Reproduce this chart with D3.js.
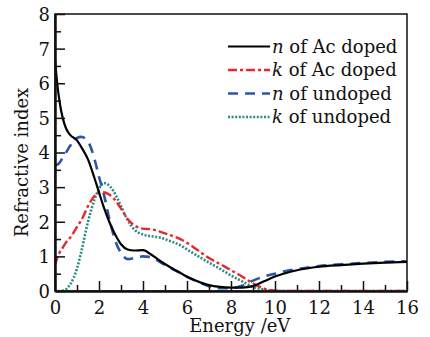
<!DOCTYPE html>
<html>
<head>
<meta charset="utf-8">
<script src="https://cdn.jsdelivr.net/npm/d3@7"></script>
<style>
  html, body { margin: 0; padding: 0; background: #fff; }
  text { font-family: "DejaVu Serif", serif; fill: #111; }
</style>
</head>
<body>
<div id="chart"></div>
<script>
// data
const energy = [0, 0.1, 0.2, 0.35, 0.5, 0.7, 1.0, 1.2, 1.5, 1.8, 2.0, 2.2, 2.5, 2.8, 3.0, 3.3, 3.6, 4.0, 4.4, 4.8,
  5.2, 5.7, 6.1, 6.6, 7.0, 7.5, 8.0, 8.5, 9.0, 9.5, 10, 10.5, 11, 12, 13, 14, 15, 16];
const nAcDoped = [6.7, 6.0, 5.5, 5.0, 4.7, 4.5, 4.35, 4.15, 3.8, 3.25, 2.85, 2.45, 1.95, 1.55, 1.35, 1.2, 1.17, 1.18, 1.04, 0.86,
  0.7, 0.52, 0.38, 0.25, 0.17, 0.12, 0.1, 0.1, 0.14, 0.28, 0.42, 0.52, 0.6, 0.7, 0.75, 0.79, 0.82, 0.84];
const kAcDoped = [0.75, 0.95, 1.1, 1.25, 1.4, 1.55, 1.85, 2.05, 2.45, 2.75, 2.85, 2.85, 2.77, 2.57, 2.38, 2.08, 1.9, 1.8, 1.78, 1.71,
  1.62, 1.5, 1.35, 1.13, 0.95, 0.78, 0.6, 0.42, 0.22, 0.07, 0.01, 0, 0, 0, 0, 0, 0, 0];
const nUndoped = [3.65, 3.65, 3.7, 3.85, 4.0, 4.2, 4.42, 4.45, 4.32, 3.8, 3.3, 2.85, 2.0, 1.35, 1.1, 0.92, 0.95, 1.0, 0.97, 0.83,
  0.68, 0.52, 0.38, 0.24, 0.14, 0.08, 0.08, 0.15, 0.3, 0.42, 0.5, 0.58, 0.63, 0.72, 0.77, 0.81, 0.84, 0.86];
const kUndoped = [0, 0, 0, 0.01, 0.05, 0.2, 0.65, 1.15, 2.0, 2.65, 2.95, 3.12, 3.02, 2.72, 2.45, 2.05, 1.78, 1.63, 1.58, 1.54,
  1.45, 1.32, 1.16, 0.97, 0.82, 0.64, 0.45, 0.28, 0.12, 0.04, 0.01, 0, 0, 0, 0, 0, 0, 0];

const xTicks = [0, 2, 4, 6, 8, 10, 12, 14, 16];
const yTicks = [0, 1, 2, 3, 4, 5, 6, 7, 8];

const series = [
  { sym: "n", label: " of Ac doped", values: nAcDoped, color: "#000000", dash: null, width: 2.2 },
  { sym: "k", label: " of Ac doped", values: kAcDoped, color: "#e8282c", dash: "9,3,3,3", width: 2.4 },
  { sym: "n", label: " of undoped", values: nUndoped, color: "#2b56a8", dash: "10,7", width: 2.6 },
  { sym: "k", label: " of undoped", values: kUndoped, color: "#2a8a84", dash: "2,1.6", width: 2.6 },
];

const width = 430, height = 337;
const margin = { left: 55, right: 23, top: 14, bottom: 46 };
const innerWidth = width - margin.left - margin.right;
const innerHeight = height - margin.top - margin.bottom;

const svg = d3.select("#chart").append("svg")
  .attr("width", width)
  .attr("height", height);
const g = svg.append("g")
  .attr("transform", `translate(${margin.left},${margin.top})`);

const xScale = d3.scaleLinear().domain([0, 16]).range([0, innerWidth]);
const yScale = d3.scaleLinear().domain([0, 8]).range([innerHeight, 0]);

// frame (top/right)
g.append("rect")
  .attr("width", innerWidth)
  .attr("height", innerHeight)
  .attr("fill", "none")
  .attr("stroke", "#111")
  .attr("stroke-width", 1.5);

// curves
const line = d3.line()
  .x((d, i) => xScale(energy[i]))
  .y(d => yScale(d))
  .curve(d3.curveMonotoneX);

svg.append("clipPath").attr("id", "clip")
  .append("rect").attr("width", innerWidth).attr("height", innerHeight);

g.append("g").attr("clip-path", "url(#clip)")
  .selectAll("path")
  .data(series.slice().reverse())
  .join("path")
  .attr("d", d => line(d.values))
  .attr("fill", "none")
  .attr("stroke", d => d.color)
  .attr("stroke-width", d => d.width)
  .attr("stroke-dasharray", d => d.dash);

// axes, ticks pointing inward
const minorX = d3.range(1, 16, 2);
const minorY = d3.range(0.5, 8, 1);

const xAxis = g.append("g")
  .attr("transform", `translate(0,${innerHeight})`)
  .call(d3.axisBottom(xScale).tickValues(xTicks).tickSize(-10).tickSizeOuter(0));
const xMinor = g.append("g")
  .attr("transform", `translate(0,${innerHeight})`)
  .call(d3.axisBottom(xScale).tickValues(minorX).tickSize(-6).tickSizeOuter(0));

const yAxis = g.append("g")
  .call(d3.axisLeft(yScale).tickValues(yTicks).tickSize(-10).tickSizeOuter(0));
const yMinor = g.append("g")
  .call(d3.axisLeft(yScale).tickValues(minorY).tickSize(-6).tickSizeOuter(0));

// minor ticks carry no labels
xMinor.selectAll(".tick text").remove();
yMinor.selectAll(".tick text").remove();

g.selectAll(".domain").attr("stroke", "#111").attr("stroke-width", 2);
g.selectAll(".tick line").attr("stroke", "#111").attr("stroke-width", 1.5);
g.selectAll(".tick text")
  .style("font-family", "DejaVu Serif, serif")
  .style("font-size", "18px")
  .attr("fill", "#111");
xAxis.selectAll(".tick text").attr("y", 6).attr("dy", "0.95em");
yAxis.selectAll(".tick text").attr("x", -5).attr("dy", "0.36em");

// axis titles
g.append("text")
  .attr("transform", `translate(-27,${innerHeight / 2 + 10}) rotate(-90)`)
  .attr("text-anchor", "middle")
  .style("font-size", "18px")
  .text("Refractive index");
g.append("text")
  .attr("x", xScale(8.4))
  .attr("y", innerHeight + 41)
  .attr("text-anchor", "middle")
  .style("font-size", "18px")
  .text("Energy /eV");

// legend
const legend = svg.append("g").attr("transform", "translate(228,46.5)");
const rowH = 23.5;
legend.selectAll("line")
  .data(series)
  .join("line")
  .attr("x1", 0).attr("x2", 42)
  .attr("y1", (d, i) => i * rowH).attr("y2", (d, i) => i * rowH)
  .attr("stroke", d => d.color)
  .attr("stroke-width", d => d.width)
  .attr("stroke-dasharray", d => d.dash);
const lt = legend.selectAll("text")
  .data(series)
  .join("text")
  .attr("x", 44)
  .attr("y", (d, i) => i * rowH + 6)
  .style("font-size", "18px");
lt.append("tspan").style("font-style", "italic").text(d => d.sym);
lt.append("tspan").text(d => d.label);
</script>
</body>
</html>
